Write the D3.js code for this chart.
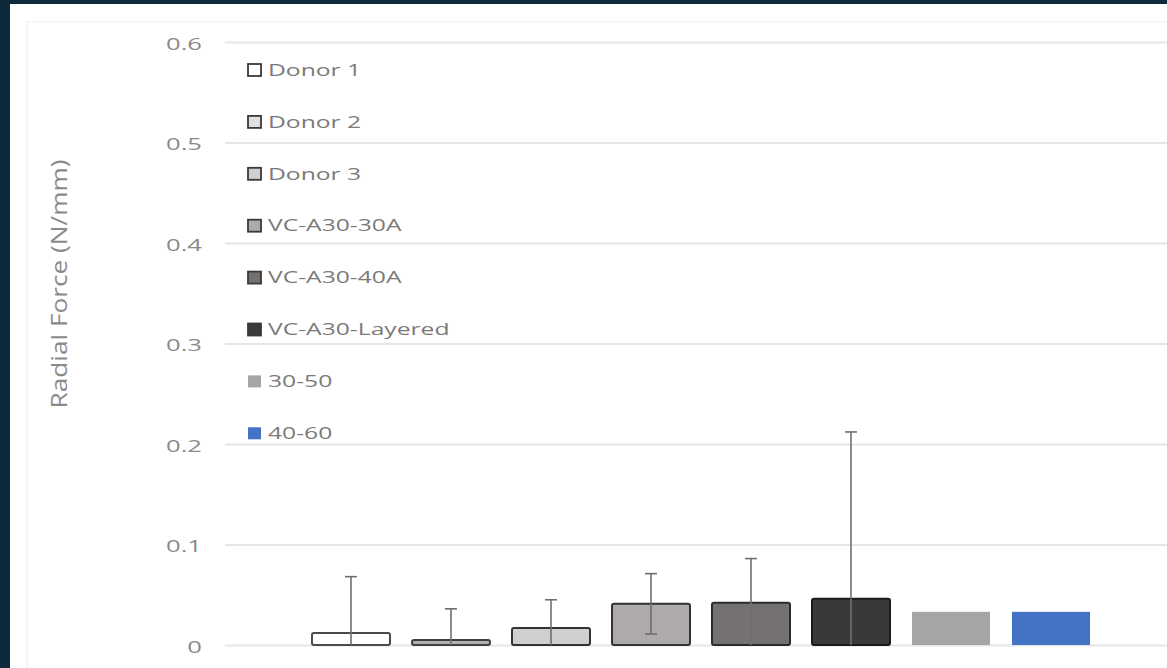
<!DOCTYPE html>
<html>
<head>
<meta charset="utf-8">
<script src="https://cdn.jsdelivr.net/npm/d3@7"></script>
<style>
  html, body { margin: 0; padding: 0; background: #0c2a3b; }
  svg { display: block; }
  text { font-family: "Open Sans", "DejaVu Sans", sans-serif; }
</style>
</head>
<body>
<svg id="chart" width="1167" height="668"></svg>
<script>
// Radial force per sample group (N/mm), with standard deviation
const groups = ["Donor 1", "Donor 2", "Donor 3", "VC-A30-30A", "VC-A30-40A", "VC-A30-Layered", "30-50", "40-60"];
const means  = [0.012, 0.005, 0.017, 0.041, 0.042, 0.046, 0.033, 0.033];
const stdevs = [0.056, 0.031, 0.028, 0.030, 0.044, 0.166, null, null];
const fills  = ["#ffffff", "#b0b0b0", "#d0cece", "#aeaaaa", "#767171", "#3b3838", "#a5a5a5", "#4472c4"];
const strokes = ["#4a4a4a", "#404040", "#333333", "#333333", "#2b2b2b", "#1a1a1a", "none", "none"];
const yTicks = [0, 0.1, 0.2, 0.3, 0.4, 0.5, 0.6];

const svg = d3.select("#chart");

// white chart sheet inside the dark frame, with a faint inner border
svg.append("rect").attr("x", 10).attr("y", 4).attr("width", 1157).attr("height", 664).attr("fill", "#ffffff");
svg.append("rect").attr("x", 27).attr("y", 22).attr("width", 1150).attr("height", 660)
  .attr("fill", "none").attr("stroke", "#f3f3f3").attr("stroke-width", 1.5);

const y = d3.scaleLinear().domain([0, 0.6]).range([645, 42]);
const x = d3.scaleBand().domain(groups).range([301, 1101]).paddingInner(0.22).paddingOuter(0.11);

// horizontal gridlines and tick labels (wide lettering)
const yAxis = d3.axisLeft(y).tickValues(yTicks).tickSize(-(1167 - 225))
  .tickFormat(d => d === 0 ? "0" : d3.format(".1f")(d));
const gy = svg.append("g").attr("transform", "translate(225,0)").call(yAxis);
gy.select(".domain").remove();
gy.selectAll(".tick line").attr("stroke", "#e6e6e6").attr("stroke-width", 2);
gy.selectAll(".tick text")
  .attr("x", 0)
  .attr("dy", "0.45em")
  .attr("transform", "translate(-23,0) scale(1.6,1)")
  .attr("fill", "#8a8a8a").attr("font-size", 16);

// axis title, stretched along its length
svg.append("text")
  .attr("transform", "translate(67,284) rotate(-90) scale(1.25,1)")
  .attr("text-anchor", "middle")
  .attr("fill", "#8a8a8a")
  .attr("font-size", 21)
  .text("Radial Force (N/mm)");

// bars
svg.append("g").selectAll("rect").data(groups).join("rect")
  .attr("x", d => x(d))
  .attr("width", x.bandwidth())
  .attr("y", (d, i) => y(means[i]))
  .attr("height", (d, i) => y(0) - y(means[i]))
  .attr("fill", (d, i) => fills[i])
  .attr("stroke", (d, i) => strokes[i])
  .attr("stroke-width", 2)
  .attr("rx", (d, i) => strokes[i] === "none" ? 0 : 2);

// error bars (clipped at zero)
const eb = svg.append("g").attr("stroke", "#6f6f6f").attr("stroke-width", 1.6);
groups.forEach((g, i) => {
  if (stdevs[i] == null) return;
  const cx = x(g) + x.bandwidth() / 2;
  const hi = means[i] + stdevs[i];
  const lo = Math.max(0, means[i] - stdevs[i]);
  eb.append("line").attr("x1", cx).attr("x2", cx).attr("y1", y(hi)).attr("y2", y(lo));
  eb.append("line").attr("x1", cx - 6).attr("x2", cx + 6).attr("y1", y(hi)).attr("y2", y(hi));
  if (lo > 0) eb.append("line").attr("x1", cx - 6).attr("x2", cx + 6).attr("y1", y(lo)).attr("y2", y(lo));
});

// legend
const legend = svg.append("g").selectAll("g").data(groups).join("g")
  .attr("transform", (d, i) => `translate(247,${70 + i * 51.9})`);
legend.append("rect")
  .attr("x", 1).attr("y", -6).attr("width", 13).attr("height", 12)
  .attr("fill", (d, i) => i === 1 ? "#e0e0e0" : fills[i])
  .attr("stroke", (d, i) => strokes[i] === "none" ? "none" : "#3a3a3a")
  .attr("stroke-width", 1.8);
legend.append("text")
  .attr("x", 0).attr("y", 0).attr("dy", "0.36em")
  .attr("transform", "translate(21,0) scale(1.54,1)")
  .attr("fill", "#7a7a7a").attr("font-size", 16)
  .text(d => d);
</script>
</body>
</html>
